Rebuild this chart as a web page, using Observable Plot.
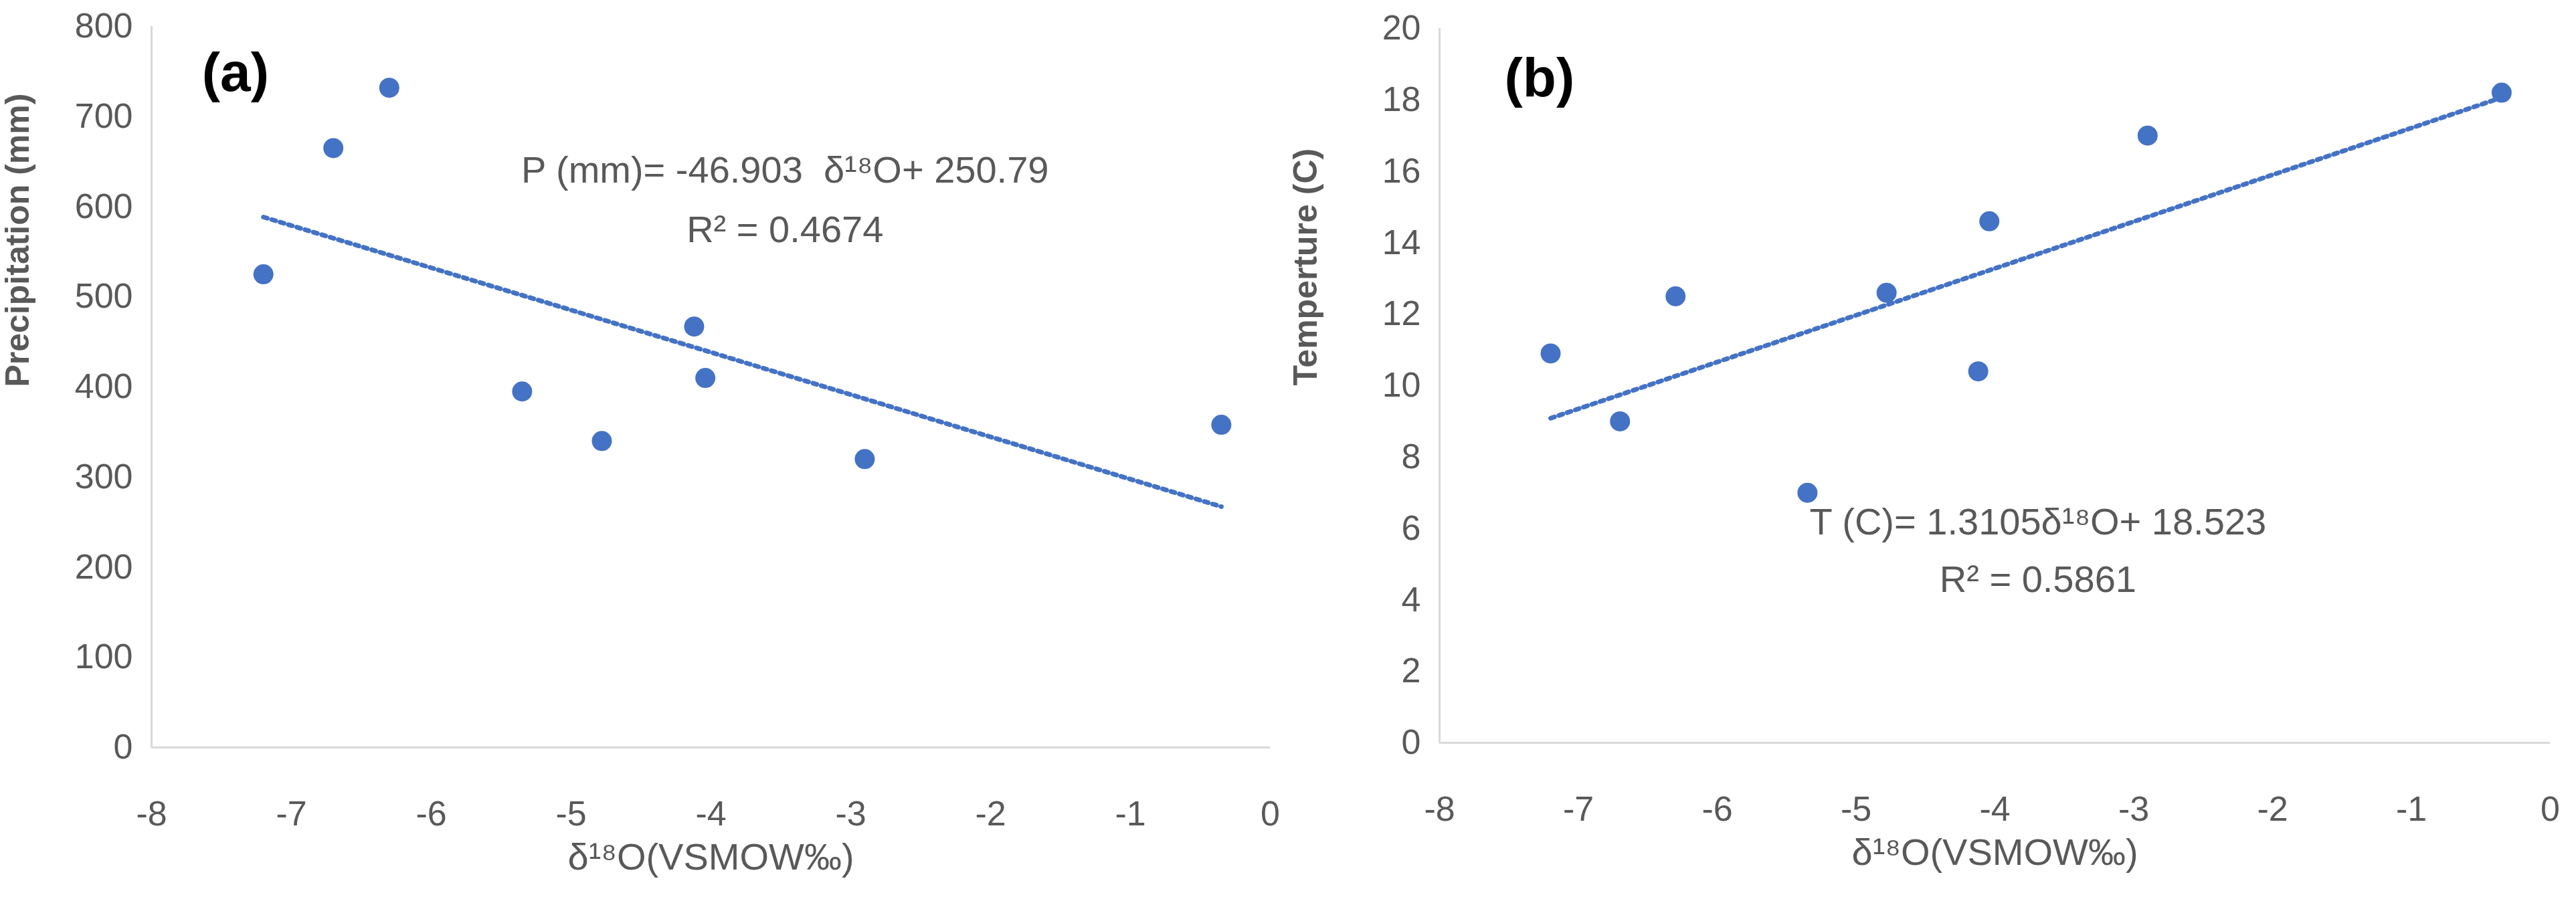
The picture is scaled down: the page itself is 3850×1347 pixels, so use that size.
<!DOCTYPE html>
<html><head><meta charset="utf-8">
<script src="https://cdn.jsdelivr.net/npm/d3@7"></script>
<script src="https://cdn.jsdelivr.net/npm/@observablehq/plot@0.6"></script>
<style>
body{margin:0;background:#fff;}
#wrap{display:flex;width:3850px;height:1347px;}
svg{font-family:"Liberation Sans Narrow","Arial Narrow","Liberation Sans",sans-serif;}
</style></head><body><div id="wrap"></div>
<script>
const d18O = [-7.2, -6.7, -6.3, -5.35, -4.78, -4.12, -4.04, -2.9, -0.35];
const precip = [525, 665, 732, 395, 340, 467, 410, 320, 358];
const d18O_T = [-7.2, -6.7, -6.3, -5.35, -4.78, -4.12, -4.04, -2.9, -0.35];
const temp = [10.9, 9.0, 12.5, 7.0, 12.6, 10.4, 14.6, 17.0, 18.2];
const fitA = {slope: -46.903, intercept: 250.79, x0: -7.2, x1: -0.35};
const fitB = {slope: 1.3105, intercept: 18.523, x0: -7.2, x1: -0.35};
const xTicks = [-8,-7,-6,-5,-4,-3,-2,-1,0];
const yTicksA = [0,100,200,300,400,500,600,700,800];
const yTicksB = [0,2,4,6,8,10,12,14,16,18,20];
const xLabel = "δ¹⁸O(VSMOW‰)";

const blue = "#4472C4", gray = "#595959";

function panel({xs, ys, fit, yDomain, yTicks, yLabel, tag, tagPos, eq, eqPos, marginRight, marginTop, marginBottom}) {
  const pts = xs.map((x,i)=>({x, y: ys[i]}));
  const line = [fit.x0, fit.x1].map(x=>({x, y: fit.slope*x + fit.intercept}));
  return Plot.plot({
    width: 1925, height: 1347,
    marginLeft: 226, marginRight, marginTop, marginBottom,
    style: {fontSize: "52px", color: gray, background: "white", fontWeight: "500"},
    x: {domain: [-8, 0], ticks: xTicks, label: null, tickSize: 0, tickPadding: 80, tickFormat: d => String(d)},
    y: {domain: yDomain, ticks: yTicks, label: null, tickSize: 0, tickPadding: 28, tickFormat: d => String(d)},
    marks: [
      Plot.ruleY([yDomain[0]], {stroke: "#d9d9d9", strokeWidth: 3}),
      Plot.ruleX([-8], {stroke: "#d9d9d9", strokeWidth: 3}),
      Plot.line(line, {x: "x", y: "y", stroke: blue, strokeWidth: 7, strokeDasharray: "6,7"}),
      Plot.dot(pts, {x: "x", y: "y", r: 15, fill: blue}),
      Plot.text([tag], {x: tagPos[0], y: tagPos[1], fontSize: 82, fontWeight: "bold", fill: "#000"}),
      Plot.text(eq, {x: eqPos[0], y: (d,i)=> eqPos[1][i], fontSize: 56, fill: gray}),
      Plot.text([xLabel], {frameAnchor: "bottom", dy: 182, fontSize: 56, fill: gray}),
      Plot.text([yLabel], {frameAnchor: "left", dx: -200, rotate: -90, fontSize: 50, fontWeight: "bold", fill: gray, fontFamily: "Liberation Sans, sans-serif", style: "letter-spacing:6px"})
    ]
  });
}

const wrap = document.getElementById("wrap");
wrap.append(panel({xs: d18O, ys: precip, fit: fitA, yDomain: [0,800], yTicks: yTicksA,
  yLabel: "Precipitation (mm)", tag: "(a)", tagPos: [-7.4, 748],
  eq: ["P (mm)= -46.903  δ¹⁸O+ 250.79", "R² = 0.4674"], eqPos: [-3.47, [640, 574]],
  marginRight: 27, marginTop: 39, marginBottom: 230}));
wrap.append(panel({xs: d18O_T, ys: temp, fit: fitB, yDomain: [0,20], yTicks: yTicksB,
  yLabel: "Temperture (C)", tag: "(b)", tagPos: [-7.28, 18.6],
  eq: ["T (C)= 1.3105δ¹⁸O+ 18.523", "R² = 0.5861"], eqPos: [-3.69, [6.16, 4.55]],
  marginRight: 39, marginTop: 42, marginBottom: 237}));
</script></body></html>
